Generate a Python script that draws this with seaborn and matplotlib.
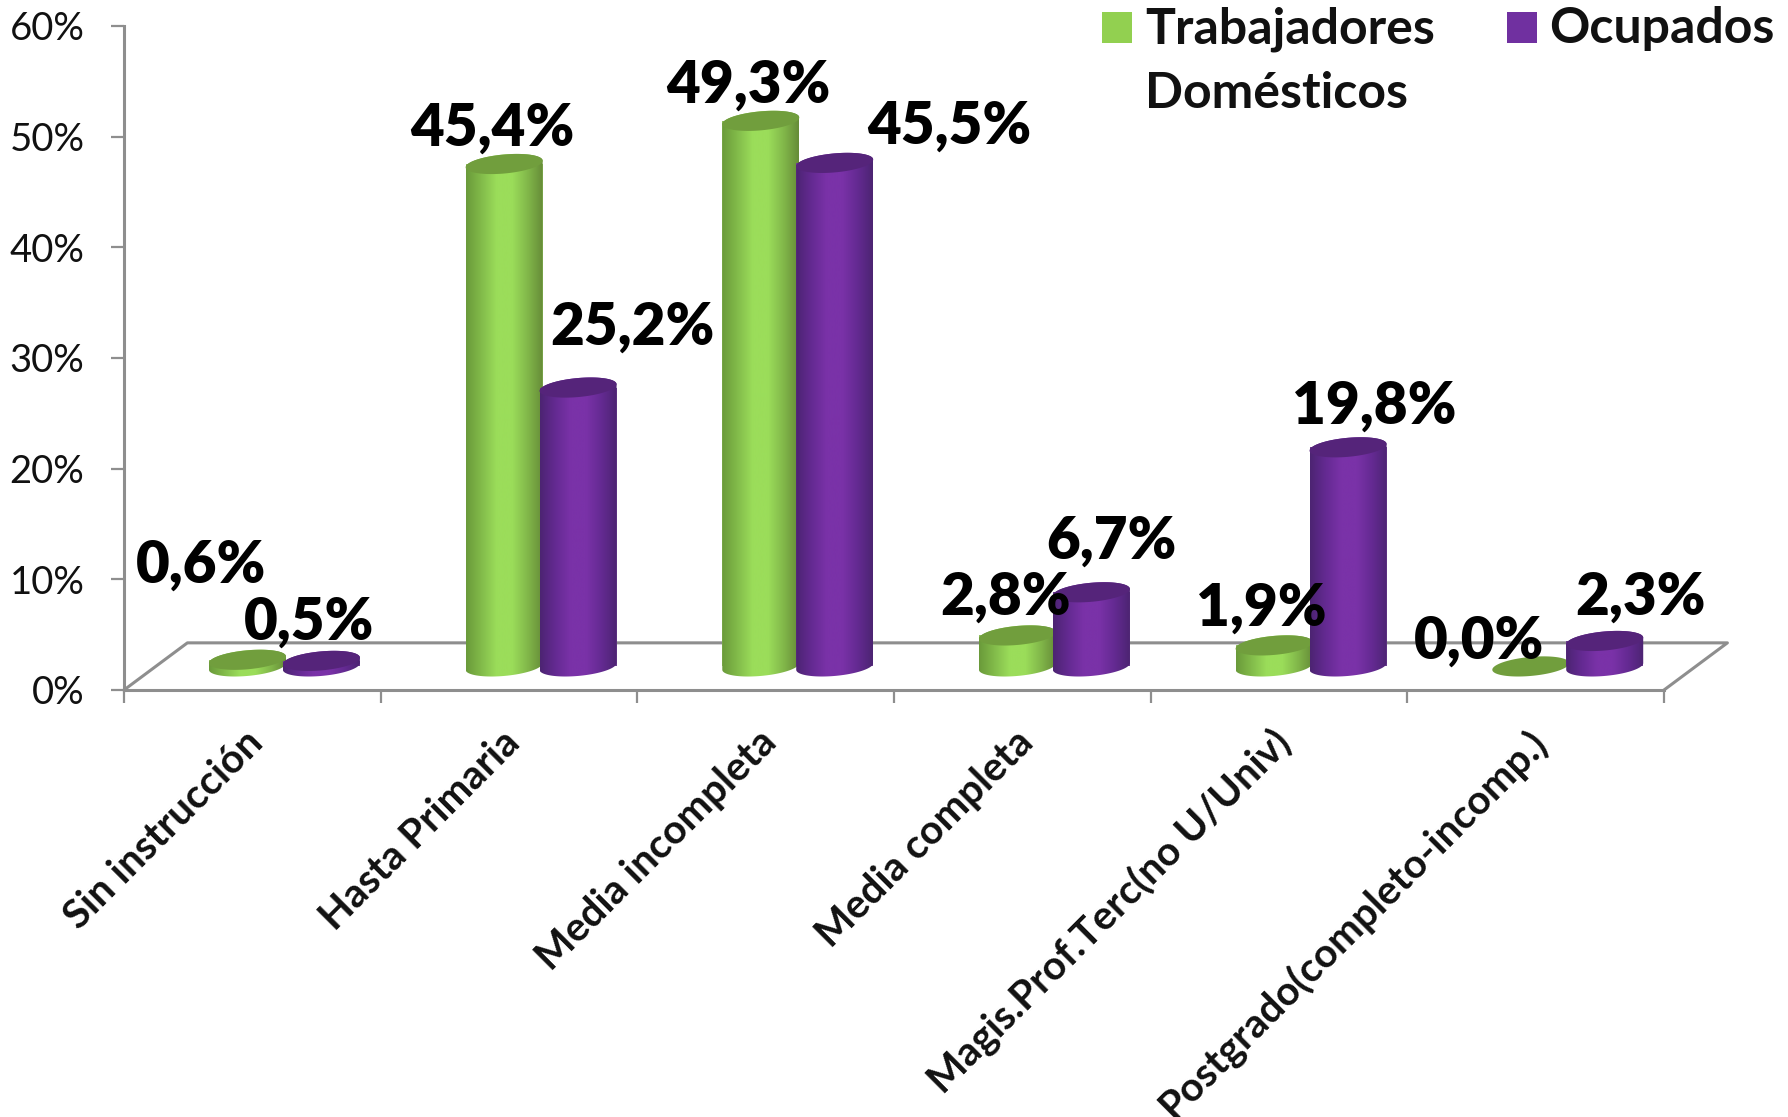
import matplotlib
matplotlib.use('Agg')
import matplotlib.pyplot as plt
from matplotlib.colors import LinearSegmentedColormap
from matplotlib.patches import Polygon, Rectangle
from matplotlib.transforms import ScaledTranslation
import numpy as np
import pandas as pd
import seaborn as sns

# Data
niveles = ['Sin instrucción', 'Hasta Primaria', 'Media incompleta', 'Media completa',
           'Magis.Prof.Terc(no U/Univ)', 'Postgrado(completo-incomp.)']
trabajadores = [0.6, 45.4, 49.3, 2.8, 1.9, 0.0]
ocupados = [0.5, 25.2, 45.5, 6.7, 19.8, 2.3]
series = ['Trabajadores Domésticos', 'Ocupados']
ticks_y = [0, 10, 20, 30, 40, 50, 60]

# Label offsets from the top of each bar, in pixels (placed by hand in the original)
off_trab = [(-46, 77), (-12, 18), (-12, 18), (-12, 21), (-13, 20), (-52, 8)]
off_ocup = [(-12, 21), (54, 43), (115, 19), (20, 34), (26, 24), (36, 26)]

GRIS = '#8e8e8e'
colores = {'Trabajadores Domésticos': '#92d050', 'Ocupados': '#7030a0'}
tapas = ['#719e3d', '#55247a']
cuerpos = [LinearSegmentedColormap.from_list('v', ['#6a9a3a', '#82bb4a', '#9bdd5a', '#9bdd5a', '#82b84a', '#668c38']),
           LinearSegmentedColormap.from_list('m', ['#4c2472', '#642a92', '#7a32a8', '#7a32a8', '#642a92', '#4c2472'])]

# 3D look, in data units
DX_PISO, DY_PISO = 0.247, 4.26   # depth of the floor
DX_BASE, DY_BASE = 0.125, 2.13   # bars stand in the middle of the floor
RY, SHEAR = 0.86, 0.30           # ellipse half height and tilt

plt.rcParams['font.family'] = ['Lato', 'DejaVu Sans']

df = pd.DataFrame({
    'nivel': niveles * 2,
    'valor': trabajadores + ocupados,
    'serie': [series[0]] * len(niveles) + [series[1]] * len(niveles),
})

fig = plt.figure(figsize=(17.88, 11.17), dpi=100)
W, H = 1788, 1117
ax = fig.add_axes([124 / W, 1 - 690 / H, 1540 / W, 664 / H])
sns.barplot(data=df, x='nivel', y='valor', hue='serie', palette=colores, width=0.576, gap=0,
            legend=False, ax=ax)


def elipse(cx, cy, hw, t):
    return np.column_stack([cx + hw * np.cos(t), cy + RY * np.sin(t) + SHEAR * np.cos(t)])


z = 3
for s, cont in enumerate(ax.containers):
    for i, bar in enumerate(cont):
        alto = bar.get_height()
        cx = bar.get_x() + bar.get_width() / 2 + DX_BASE
        hw = 0.150
        base = DY_BASE
        tope = base + alto
        # seaborn's bar is moved onto the floor, the cylinder is painted over it
        bar.set_x(cx - hw)
        bar.set_width(2 * hw)
        bar.set_y(base)
        bar.set_zorder(z)
        if alto > 0:
            contorno = np.vstack([elipse(cx, base, hw, np.linspace(np.pi, 2 * np.pi, 60)),
                                  elipse(cx, tope, hw, np.linspace(0, np.pi, 60))])
            im = ax.imshow(np.linspace(0, 1, 256)[None, :], cmap=cuerpos[s], aspect='auto',
                           extent=(cx - hw, cx + hw, base - 2, tope + 2), zorder=z + 0.1)
            im.set_clip_path(Polygon(contorno, transform=ax.transData))
        ax.fill(*elipse(cx, tope, hw, np.linspace(0, 2 * np.pi, 120)).T, color=tapas[s],
                lw=0, zorder=z + 0.2)
        desp = (off_trab if s == 0 else off_ocup)[i]
        ax.annotate(f'{alto:.1f}%'.replace('.', ','), xy=(cx, tope), xytext=desp,
                    textcoords='offset pixels', ha='center', va='baseline',
                    fontsize=42, fontweight=800, color='black', zorder=20)
        z += 1

ax.set_xlim(-0.5, 5.5)
ax.set_ylim(0, 60)

# floor
ax.plot([-0.5, -0.5 + DX_PISO, 5.5 + DX_PISO, 5.5], [0, DY_PISO, DY_PISO, 0], color=GRIS,
        lw=2.2, clip_on=False, zorder=1)

sns.despine(ax=ax)
for lado in ['left', 'bottom']:
    ax.spines[lado].set_color(GRIS)
    ax.spines[lado].set_linewidth(2.2)

ax.set_yticks(ticks_y)
ax.set_yticklabels([f'{v}%' for v in ticks_y], fontsize=27.5, color='#111111')
ax.tick_params(axis='y', length=9.5, width=1.6, color=GRIS, pad=19)

ax.set_xticks(np.arange(-0.5, 6, 1), minor=True)
ax.tick_params(axis='x', which='minor', length=9.5, width=1.6, color=GRIS)
ax.set_xticks(range(len(niveles)))
ax.set_xticklabels(niveles, rotation=45, ha='right', va='top', rotation_mode='anchor',
                   fontsize=29, fontweight='bold', color='#111111')
ax.tick_params(axis='x', which='major', length=0, pad=24)
# the rotated names sit a little left of the category centre
corrimiento = ScaledTranslation(-8 / 100, 0, fig.dpi_scale_trans)
for t in ax.get_xticklabels():
    t.set_transform(t.get_transform() + corrimiento)
ax.set_xlabel('')
ax.set_ylabel('')

# legend, laid out by hand because the first name runs over two lines
for x0, col in [(1102, colores[series[0]]), (1507, colores[series[1]])]:
    fig.add_artist(Rectangle((x0 / W, 1 - 43 / H), 30 / W, 31 / H, transform=fig.transFigure,
                             facecolor=col, edgecolor='none'))
ley = dict(fontsize=36, fontweight='bold', color='#111111', va='baseline', ha='left')
fig.text(1145 / W, 1 - 43 / H, 'Trabajadores', **ley)
fig.text(1145 / W, 1 - 108 / H, 'Domésticos', **ley)
fig.text(1549 / W, 1 - 43 / H, 'Ocupados', **ley)

fig.savefig('out.png', dpi=100)
